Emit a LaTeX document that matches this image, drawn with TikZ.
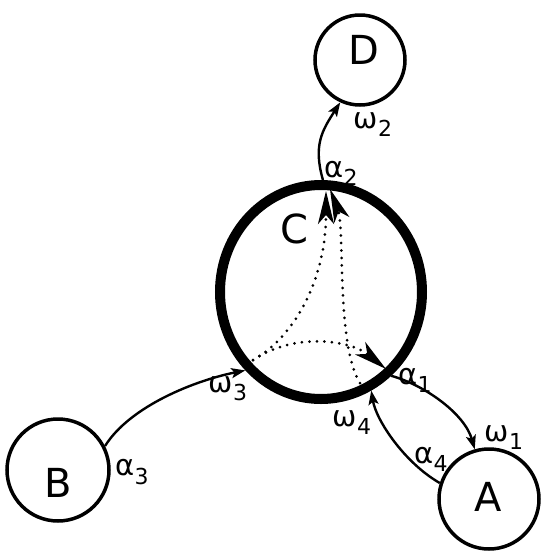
\documentclass[tikz,border=0pt]{standalone}
\usepackage{fontspec}
\setmainfont{DejaVu Sans}
\usetikzlibrary{arrows.meta,shapes.geometric}
\newcommand{\gsub}[2]{#1\raisebox{-0.28em}{\fontsize{22}{22}\selectfont #2}}
\begin{document}
\begin{tikzpicture}[x=1pt,y=-1pt,
  smallnode/.style={draw,circle,line width=3.5pt,inner sep=0pt},
  conn/.style={line width=2.4pt,-{Stealth[length=14pt,width=10pt,inset=3pt]}},
  dotconn/.style={line width=3pt,line cap=round,dash pattern=on 0pt off 7.5pt,-{Stealth[length=33pt,width=16pt,inset=9pt,line cap=butt]}},
  letter/.style={font=\fontsize{40}{40}\selectfont,inner sep=0pt},
  glab/.style={font=\fontsize{29}{29}\selectfont,inner sep=0pt}]
\useasboundingbox (0,0) rectangle (550,558);
\node[draw,ellipse,line width=10pt,minimum width=202pt,minimum height=214pt,inner sep=0pt] (C) at (321,292) {};
\node[smallnode,minimum size=90pt] (D) at (360,60) {};
\node[smallnode,minimum size=102pt] (B) at (58,470) {};
\node[smallnode,minimum size=100pt] (A) at (489,499) {};
\node[letter] (Ct) at (294,229) {C};
\node[letter] (Dt) at (364,50) {D};
\node[letter] (Bt) at (58,483) {B};
\node[letter] (At) at (488,497) {A};
% connectors
\draw[conn] (B.27) .. controls +(25,-40) and +(-50,10) .. (C.226);
\draw[conn] (C.89) .. controls +(-10,-35) and +(-18,28) .. (D.245);
\draw[conn] (C.-50) .. controls +(35,10) and +(-10,-35) .. (A.106);
\draw[conn] (A.162) .. controls +(-35,-20) and +(5,30) .. (C.-63);
% inner dotted paths
\coordinate (w3in) at (253,360);
\coordinate (w4in) at (360,383);
\coordinate (a2inL) at (326,191);
\coordinate (a2inR) at (330,189);
\coordinate (a1in) at (386,369);
\draw[dotconn] (w3in) .. controls (290,340) and (326,285) .. (a2inL);
\draw[dotconn] (w4in) .. controls (336,345) and (345,228) .. (a2inR);
\draw[dotconn] (w3in) .. controls (295,332) and (350,340) .. (a1in);
% labels
\node[glab] (la2) at (341,173) {\gsub{α}{2}};
\node[glab] (lw2) at (373,125) {\gsub{ω}{2}};
\node[glab] (la3) at (132,472) {\gsub{α}{3}};
\node[glab] (lw3) at (228,389) {\gsub{ω}{3}};
\node[glab] (la1) at (415,380) {\gsub{α}{1}};
\node[glab] (lw1) at (504,438) {\gsub{ω}{1}};
\node[glab] (la4) at (431,459) {\gsub{α}{4}};
\node[glab] (lw4) at (352,423) {\gsub{ω}{4}};
\end{tikzpicture}
\end{document}
